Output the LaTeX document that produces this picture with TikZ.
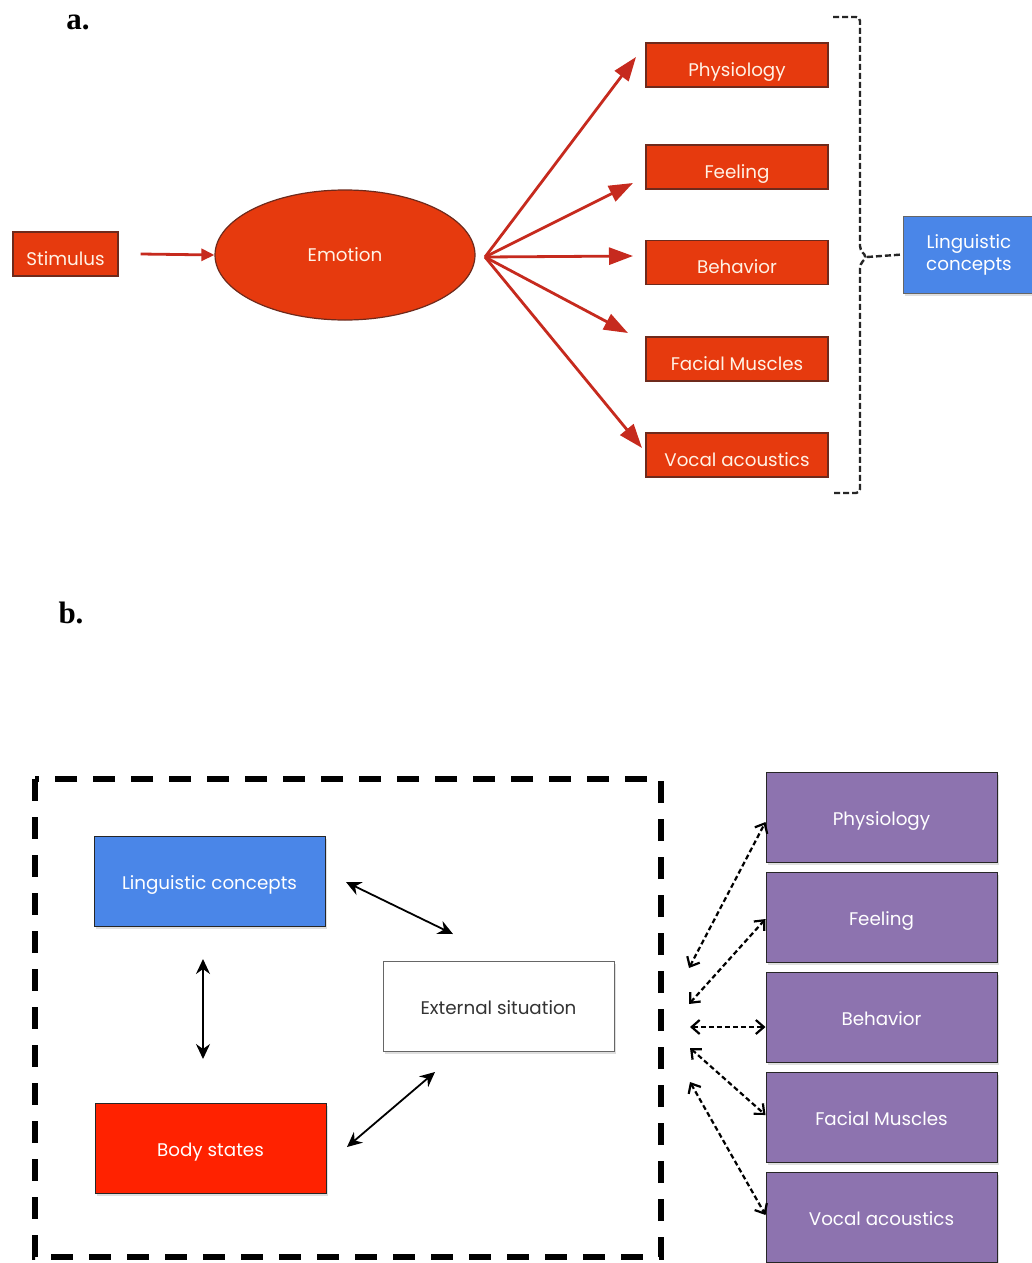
\documentclass[tikz,border=0pt]{standalone}
\usepackage{fontspec}
\setmainfont{Poppins}
\newfontfamily\labfont{Liberation Serif}
\usetikzlibrary{shapes.geometric,arrows.meta,shadows}
\definecolor{topred}{HTML}{E63A0E}
\definecolor{arrred}{HTML}{C62A1E}
\definecolor{edgered}{HTML}{6E2A1C}
\definecolor{gblue}{HTML}{4A86E8}
\definecolor{bred}{HTML}{FF2200}
\definecolor{purp}{HTML}{8D73AF}
\tikzset{
  boxfont/.style={font=\fontsize{18.3}{22}\selectfont},
  redbox/.style={draw=edgered, line width=1.2pt, fill=topred, text=white!90!orange, inner sep=0pt, boxfont, text height=22pt, text depth=0pt},
  bbox/.style={draw=black!85, line width=1pt, inner sep=0pt, minimum width=231pt, minimum height=90pt, boxfont, text height=17pt, text depth=0pt, drop shadow={opacity=0.25, shadow xshift=2pt, shadow yshift=-3pt}},
  redarr/.style={draw=arrred, line width=2.8pt, -{Triangle[length=24pt,width=17pt]}},
  blkarr/.style={draw=black, line width=1.8pt, {Stealth[length=15pt,width=14pt,inset=5pt]}-{Stealth[length=15pt,width=14pt,inset=5pt]}},
  dasharr/.style={draw=black, line width=2.2pt, dash pattern=on 5pt off 3pt, {Straight Barb[length=8pt,width=14pt]}-{Straight Barb[length=8pt,width=14pt]}},
  panel/.style={font=\labfont\bfseries\fontsize{31}{34}\selectfont, inner sep=0pt}
}
\begin{document}
\begin{tikzpicture}[x=1pt,y=-1pt]
\useasboundingbox (0,0) rectangle (1031,1263);
\fill[white] (0,0) rectangle (1031,1263);
% ---------- panel a ----------
\node[panel] (la) at (78,22) {a.};
\node[redbox, minimum width=105pt, minimum height=44pt] (stim) at (65.5,254) {Stimulus};
\node[ellipse, draw=edgered, line width=1.2pt, fill=topred, text=white!90!orange, minimum width=260pt, minimum height=130pt, inner sep=0pt, boxfont] (emo) at (345,255) {Emotion};
\draw[draw=arrred, line width=2.8pt, -{Triangle[length=13pt,width=12pt]}] (stim.east) ++(22,0) coordinate (s0) -- (emo.west);
\foreach \n/\y/\t in {phys/65/Physiology, feel/167/Feeling, beh/262.5/Behavior, fac/359/Facial Muscles, voc/455/Vocal acoustics}
  \node[redbox, minimum width=182pt, minimum height=44pt] (\n) at (737,\y) {\t};
\coordinate (fan) at (485,257);
\coordinate (e1) at (636,57);
\coordinate (e2) at (633,183);
\coordinate (e3) at (633,256);
\coordinate (e4) at (628,333);
\coordinate (e5) at (642,448);
\foreach \e in {e1,e2,e3,e4,e5} \draw[redarr] (fan) -- (\e);
% bracket
\draw[black!85, line width=2.4pt, dash pattern=on 6pt off 3pt, rounded corners=4pt]
  (833,17) -- (860,17) -- (860,250) -- (867,257) -- (860,264) -- (860,493) -- (833,493);
\node[draw=black!60, line width=1pt, fill=gblue, text=white, minimum width=132pt, minimum height=77pt, inner sep=0pt, align=center, font=\fontsize{18.3}{22}\selectfont, drop shadow={opacity=0.25, shadow xshift=2pt, shadow yshift=-3pt}] (lca) at (969,254.5) {Linguistic\\concepts};
\coordinate (br) at (867,257);
\draw[black!85, line width=2.4pt, dash pattern=on 6pt off 3pt] (br) -- (lca.west);
% ---------- panel b ----------
\node[panel] (lb) at (71,613) {b.};
\draw[black, line width=6pt, dash pattern=on 22pt off 16pt] (35,779) rectangle (661,1257);
\node[bbox, fill=gblue, text=white] (lcb) at (209.5,881) {Linguistic concepts};
\node[bbox, fill=bred, text=white] (body) at (210.5,1148) {Body states};
\node[bbox, fill=white, draw=black!60, text=black!80] (ext) at (498.5,1006) {External situation};
\coordinate (a1) at (346,882);
\coordinate (a2) at (453,934);
\coordinate (v1) at (203,959);
\coordinate (v2) at (203,1059);
\coordinate (b1) at (347,1147);
\coordinate (b2) at (435,1072);
\draw[blkarr] (a1) -- (a2);
\draw[blkarr] (v1) -- (v2);
\draw[blkarr] (b1) -- (b2);
\foreach \n/\y/\t in {pphys/817/Physiology, pfeel/917/Feeling, pbeh/1017/Behavior, pfac/1117/Facial Muscles, pvoc/1217/Vocal acoustics}
  \node[bbox, fill=purp, text=white] (\n) at (881.5,\y) {\t};
\coordinate (d1) at (689,968);
\coordinate (d2) at (689,1004);
\coordinate (d3) at (690,1027);
\coordinate (d4) at (690,1048);
\coordinate (d5) at (690,1082);
\draw[dasharr] (d1) -- (pphys.west |- 0,822);
\draw[dasharr] (d2) -- (pfeel.west |- 0,919);
\draw[dasharr] (d3) -- (pbeh.west |- d3);
\draw[dasharr] (d4) -- (pfac.west |- 0,1115);
\draw[dasharr] (d5) -- (pvoc.west |- 0,1215);
\end{tikzpicture}
\end{document}
